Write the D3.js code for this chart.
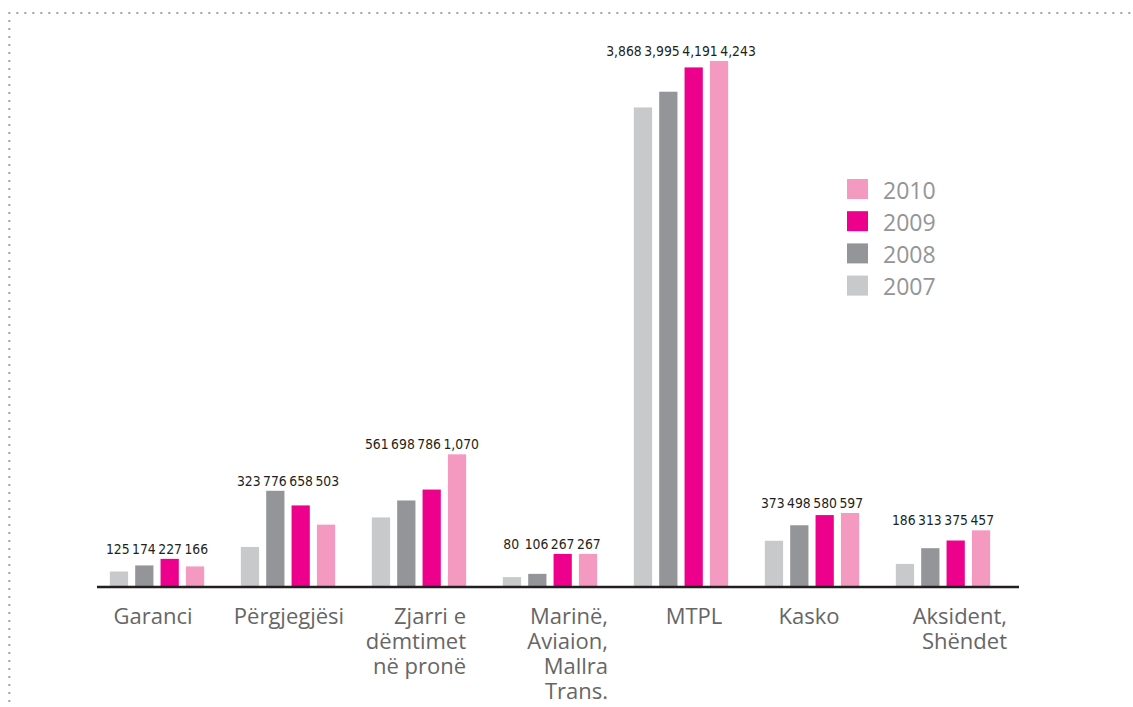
<!DOCTYPE html>
<html>
<head>
<meta charset="utf-8">
<script src="https://cdn.jsdelivr.net/npm/d3@7"></script>
<style>
  html, body { margin: 0; padding: 0; background: #fff; }
  svg { display: block; }
</style>
</head>
<body>
<svg id="chart" width="1133" height="707"></svg>
<script>
// ---- data ----
const categories = [
  ["Garanci"],
  ["Përgjegjësi"],
  ["Zjarri e", "dëmtimet", "në pronë"],
  ["Marinë,", "Aviaion,", "Mallra", "Trans."],
  ["MTPL"],
  ["Kasko"],
  ["Aksident,", "Shëndet"]
];
const years = ["2007", "2008", "2009", "2010"];
const v2007 = [125, 323, 561, 80, 3868, 373, 186];
const v2008 = [174, 776, 698, 106, 3995, 498, 313];
const v2009 = [227, 658, 786, 267, 4191, 580, 375];
const v2010 = [166, 503, 1070, 267, 4243, 597, 457];
const legendOrder = ["2010", "2009", "2008", "2007"];

// ---- styles / layout ----
const colors = { "2007": "#c8c9cb", "2008": "#949599", "2009": "#ec008c", "2010": "#f49ac1" };
const labelNudge = [-4, 1, 47, 58, 13, -3, 64];   // horizontal shift of category label anchor
const W = 1133, H = 707;
const baseY = 587;

const series = [v2007, v2008, v2009, v2010];
const svg = d3.select("#chart");

// dotted frame
svg.append("line").attr("x1", 8.3).attr("y1", 13).attr("x2", W).attr("y2", 13)
  .attr("stroke", "#a3a3a3").attr("stroke-width", 2).attr("stroke-dasharray", "2,6");
svg.append("line").attr("x1", 9.3).attr("y1", 20).attr("x2", 9.3).attr("y2", H)
  .attr("stroke", "#a3a3a3").attr("stroke-width", 2).attr("stroke-dasharray", "2,6");

const x0 = d3.scaleBand().domain(d3.range(categories.length))
  .range([91.5, 1008.5]).paddingInner(0.28).paddingOuter(0.14);
const x1 = d3.scaleBand().domain(years).range([0, x0.bandwidth()]).paddingInner(0.28).paddingOuter(0);
const y = d3.scaleLinear().domain([0, 4500]).range([baseY, baseY - 557.9]);

const groups = svg.append("g").selectAll("g")
  .data(categories.map((c, i) => ({ i, vals: years.map((yr, k) => ({ yr, v: series[k][i] })) })))
  .join("g")
  .attr("transform", d => `translate(${x0(d.i)},0)`);

groups.selectAll("rect").data(d => d.vals).join("rect")
  .attr("x", d => x1(d.yr))
  .attr("width", x1.bandwidth())
  .attr("y", d => y(d.v))
  .attr("height", d => baseY - y(d.v))
  .attr("fill", d => colors[d.yr]);

// value labels: centered on bars, spread apart when they would collide
const fmt = d3.format(",");
groups.each(function(d) {
  const g = d3.select(this);
  const maxV = d3.max(d.vals, e => e.v);
  const ty = y(maxV) - 5;
  const texts = d.vals.map(e => g.append("text")
    .attr("y", ty)
    .attr("text-anchor", "middle")
    .attr("font-family", "'DejaVu Sans Condensed', 'Open Sans', sans-serif")
    .attr("font-stretch", "condensed")
    .attr("font-size", 13.8)
    .attr("fill", "#231f20")
    .text(fmt(e.v)));
  const widths = texts.map(t => t.node().getComputedTextLength());
  const centers = d.vals.map(e => x1(e.yr) + x1.bandwidth() / 2);
  const gap = 2.5;
  const pos = [centers[0]];
  for (let k = 1; k < centers.length; k++) {
    const need = (widths[k - 1] + widths[k]) / 2 + gap;
    pos.push(pos[k - 1] + Math.max(centers[k] - centers[k - 1], need));
  }
  const shift = (d3.mean(centers) - (pos[0] + pos[pos.length - 1]) / 2);
  texts.forEach((t, k) => t.attr("x", pos[k] + shift));
});

// baseline
svg.append("line").attr("x1", 97).attr("x2", 1019).attr("y1", baseY).attr("y2", baseY)
  .attr("stroke", "#231f20").attr("stroke-width", 2.5);

// category labels
categories.forEach((lines, i) => {
  const cx = x0(i) + x0.bandwidth() / 2 + labelNudge[i];
  const t = svg.append("text")
    .attr("font-family", "Open Sans")
    .attr("font-size", 22)
    .attr("fill", "#666")
    .attr("text-anchor", lines.length > 1 ? "end" : "middle");
  lines.forEach((ln, j) => {
    t.append("tspan").attr("x", cx).attr("y", 624 + j * 25).text(ln);
  });
});

// legend
const lg = svg.append("g");
legendOrder.forEach((yr, k) => {
  const top = 179 + k * 32.2;
  lg.append("rect").attr("x", 847).attr("y", top).attr("width", 21).attr("height", 20)
    .attr("fill", colors[yr]);
  lg.append("text").attr("x", 883).attr("y", top + 19.5)
    .attr("font-family", "Open Sans").attr("font-size", 23).attr("fill", "#939598")
    .text(yr);
});
</script>
</body>
</html>
